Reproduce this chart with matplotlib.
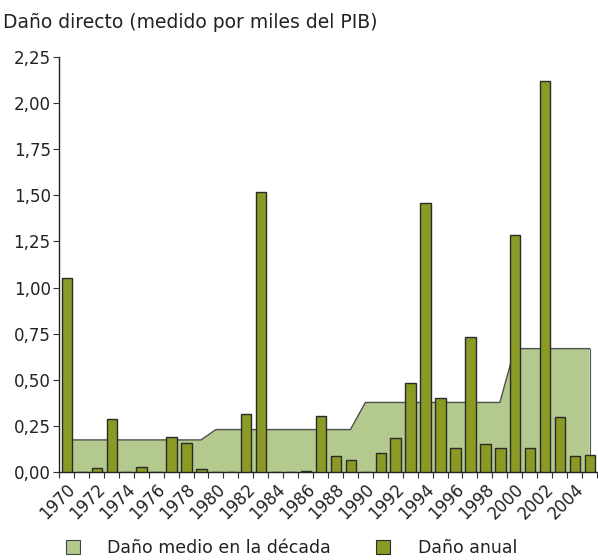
import numpy as np
import matplotlib
matplotlib.use("Agg")
import matplotlib.pyplot as plt
from matplotlib.patches import Patch

# Annual direct damage, per thousand of GDP
years = list(range(1970, 2006))
annual_damage = [
    1.05, 0.0, 0.02, 0.29, 0.0, 0.025, 0.0, 0.19, 0.155, 0.015,
    0.0, 0.0, 0.315, 1.52, 0.0, 0.0, 0.007, 0.305, 0.085, 0.065,
    0.0, 0.105, 0.183, 0.48, 1.46, 0.40, 0.132, 0.73, 0.15, 0.13,
    1.285, 0.13, 2.12, 0.297, 0.085, 0.092,
]

# Mean damage of each decade and the number of years it spans in the series
decade_means = [0.174, 0.23, 0.377, 0.669]
decade_lengths = [10, 10, 10, 6]

y_ticks = [0.0, 0.25, 0.5, 0.75, 1.0, 1.25, 1.5, 1.75, 2.0, 2.25]
y_tick_labels = ["0,00", "0,25", "0,50", "0,75", "1,00", "1,25", "1,50", "1,75", "2,00", "2,25"]

title_text = "Daño directo (medido por miles del PIB)"
legend_labels = ["Daño medio en la década", "Daño anual"]

area_color = "#b3c98e"
bar_color = "#8b9a24"
edge_color = "#2a2a2a"

plt.rcParams["font.family"] = ["DejaVu Sans"]
fs_tick = 12.0
fs_title = 13.5
fs_legend = 12.5
text_color = "#222222"

fig = plt.figure(figsize=(5.98, 5.60), dpi=100)
ax = fig.add_axes([59 / 598, (560 - 472) / 560, (597 - 59) / 598, (472 - 57) / 560])

n = len(years)
centers = np.arange(n) + 0.5
decade_series = np.repeat(decade_means, decade_lengths)

ax.fill_between(centers, 0, decade_series, facecolor=area_color, edgecolor="none", zorder=1)
ax.plot(centers, decade_series, color="#505050", lw=1.0, zorder=2)
ax.plot([centers[-1], centers[-1]], [0, decade_series[-1]], color="#505050", lw=0.8, zorder=2)

ax.bar(centers + 0.03, annual_damage, width=0.7, color=bar_color,
       edgecolor=edge_color, linewidth=1.0, zorder=3)

ax.set_xlim(0, n)
ax.set_ylim(0, 2.25)

ax.set_yticks(y_ticks)
ax.set_yticklabels(y_tick_labels, fontsize=fs_tick, color=text_color)

label_pos = [centers[i] for i in range(0, n, 2) if years[i] <= 2004]
label_txt = [str(years[i]) for i in range(0, n, 2) if years[i] <= 2004]
ax.set_xticks(label_pos)
ax.set_xticklabels(label_txt, fontsize=fs_tick, rotation=45, ha="right",
                   rotation_mode="anchor", color=text_color)
ax.tick_params(axis="x", which="major", length=0, pad=6)
ax.set_xticks(np.arange(0, n + 1), minor=True)
ax.tick_params(axis="x", which="minor", length=4, width=0.8, color="#333333")
ax.tick_params(axis="y", length=4, width=0.8, color="#333333", pad=2)

for side in ("top", "right"):
    ax.spines[side].set_visible(False)
for side in ("left", "bottom"):
    ax.spines[side].set_color("#222222")
    ax.spines[side].set_linewidth(1.0)

fig.text(3 / 598, 1 - 22 / 560, title_text, fontsize=fs_title, va="center",
         ha="left", color=text_color)

handles = [
    Patch(facecolor=area_color, edgecolor="#444444", linewidth=0.8),
    Patch(facecolor=bar_color, edgecolor=edge_color, linewidth=0.8),
]
leg = fig.legend(handles, legend_labels, loc="center left",
                 bbox_to_anchor=(50 / 598, 1 - 548 / 560), ncol=2, frameon=False,
                 fontsize=fs_legend, handlelength=0.8, handleheight=0.8,
                 handletextpad=1.6, columnspacing=2.6)
for t in leg.get_texts():
    t.set_color(text_color)

fig.savefig("out.png", dpi=100)
